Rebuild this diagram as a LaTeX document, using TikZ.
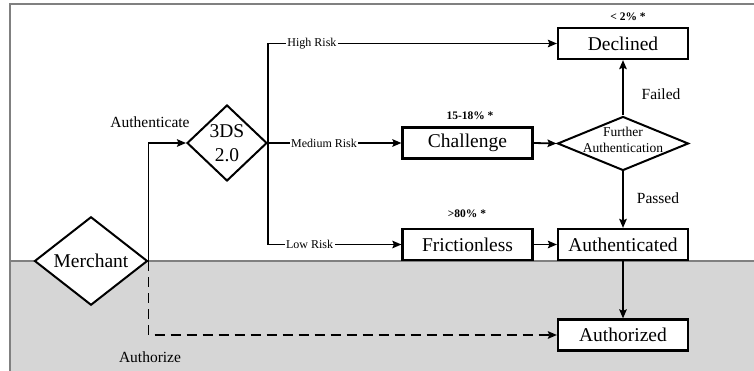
\documentclass[tikz,border=0pt]{standalone}
\usepackage{fontspec}
\setmainfont{Liberation Serif}
\usetikzlibrary{shapes.geometric,arrows.meta}

\tikzset{
  stepbox/.style={draw, line width=2.2pt, fill=white, inner sep=0pt,
    minimum width=130pt, minimum height=31pt,
    font=\fontsize{19.5}{23}\selectfont},
  decision/.style={draw, shape=diamond, line width=2pt, fill=white, inner sep=0pt,
    align=center, font=\fontsize{19.5}{24}\selectfont},
  flow/.style={line width=1.8pt, -{Stealth[length=9pt,width=7.5pt,inset=1.5pt]}},
  risklabel/.style={fill=white, inner sep=1.5pt, font=\fontsize{12}{14}\selectfont},
  sidelabel/.style={inner sep=0pt, font=\fontsize{15.5}{18}\selectfont},
  ratelabel/.style={inner sep=0pt, font=\bfseries\fontsize{11.5}{13}\selectfont},
  frame/.style={draw=black!50, line width=1.4pt}
}

\begin{document}
\begin{tikzpicture}[x=1pt, y=-1pt]
  \useasboundingbox (0,0) rectangle (754,371);

  % lower band (authorization zone) and frame
  \fill[black!16] (10,261) rectangle (754,371);
  \draw[frame] (10,371) -- (10,4) -- (754,4);
  \draw[frame] (10,261) -- (754,261);

  % nodes
  \node[decision, minimum width=113pt, minimum height=76pt] (merchant) at (91,261) {Merchant};
  \node[decision, minimum width=80pt, minimum height=76pt] (tds) at (227,143) {3DS\\2.0};
  \node[stepbox] (declined) at (623,43.5) {Declined};
  \node[stepbox] (challenge) at (467.5,143) {Challenge};
  \node[decision, minimum width=131pt, minimum height=54pt,
        label={[align=center, inner sep=0pt, yshift=4pt,
                font=\fontsize{13.5}{16}\selectfont]center:Further\\Authentication}]
        (further) at (623,143.5) {};
  \node[stepbox] (frictionless) at (467.5,244.5) {Frictionless};
  \node[stepbox] (authenticated) at (623,244.5) {Authenticated};
  \node[stepbox] (authorized) at (623,335) {Authorized};

  % authentication path
  \draw[flow] (merchant.east) |- (tds.west);
  \draw[flow] (tds.east) |- node[risklabel, pos=0.576] {High Risk} (declined.west);
  \draw[flow] (tds.east) -- node[risklabel, pos=0.42] {Medium Risk} (challenge.west);
  \draw[flow] (tds.east) |- node[risklabel, pos=0.656] {Low Risk} (frictionless.west);
  \draw[flow] (challenge.east) -- (further.west);
  \draw[flow] (further.north) -- (declined.south);
  \draw[flow] (further.south) -- (authenticated.north);
  \draw[flow] (frictionless.east) -- (authenticated.west);
  \draw[flow] (authenticated.south) -- (authorized.north);

  % direct authorization path
  \draw[flow, dash pattern=on 10pt off 6pt] (merchant.east) |- (authorized.west);

  % annotations
  \node[sidelabel] (authlbl) at (150,122) {Authenticate};
  \node[sidelabel] (authzlbl) at (150,357) {Authorize};
  \node[sidelabel] (failed) at (661,94) {Failed};
  \node[sidelabel] (passed) at (658,198) {Passed};
  \node[ratelabel] (rdecl) at (628,17) {< 2\% *};
  \node[ratelabel] (rchal) at (470,116) {15-18\% *};
  \node[ratelabel] (rfric) at (467,214) {>80\% *};
\end{tikzpicture}
\end{document}
